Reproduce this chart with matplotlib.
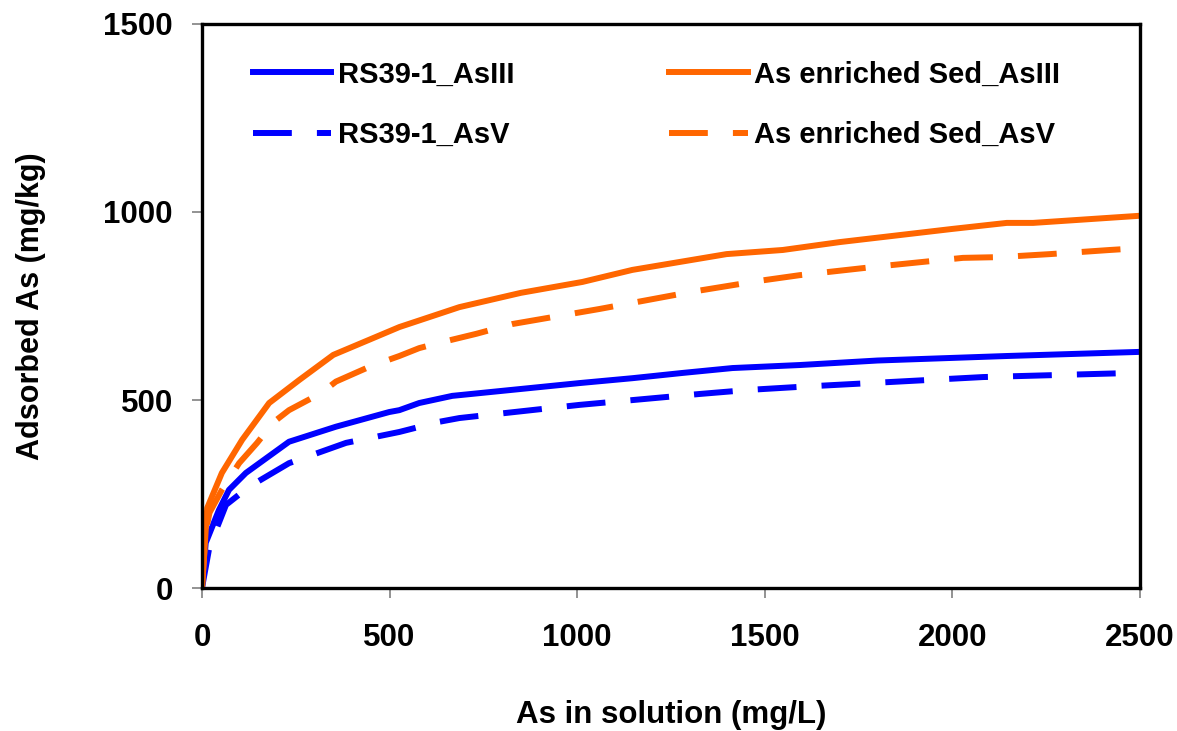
import matplotlib
matplotlib.use("Agg")
import matplotlib.pyplot as plt

plt.rcParams['font.family'] = ['Liberation Sans', 'DejaVu Sans']
plt.rcParams['font.weight'] = 'bold'

# Adsorption isotherms: adsorbed As (mg/kg) vs As in solution (mg/L)
sed_as3_x = [0, 10, 14, 53, 107, 179, 259, 350, 526, 686, 850, 1014, 1147, 1398, 1548, 1700, 2000, 2145, 2215, 2500]
sed_as3_y = [0, 154, 213, 306, 394, 492, 553, 620, 694, 747, 785, 814, 846, 888, 899, 920, 955, 971, 971, 990]

sed_as5_x = [0, 10, 20, 53, 99, 147, 192, 232, 317, 357, 450, 526, 579, 632, 731, 827, 1059, 1307, 1486, 1593, 1800, 2028, 2126, 2260, 2420, 2500]
sed_as5_y = [0, 150, 200, 261, 332, 386, 442, 473, 518, 549, 590, 617, 638, 652, 676, 702, 742, 788, 817, 832, 855, 878, 880, 888, 899, 904]

rs_as3_x = [0, 10, 45, 72, 117, 232, 357, 499, 526, 579, 667, 1006, 1147, 1281, 1414, 1593, 1800, 2145, 2500]
rs_as3_y = [0, 120, 207, 261, 306, 389, 429, 468, 473, 492, 511, 545, 558, 572, 585, 593, 605, 617, 628]

rs_as5_x = [0, 20, 45, 64, 125, 232, 384, 526, 632, 686, 1006, 1326, 1459, 1593, 2081, 2481, 2500]
rs_as5_y = [0, 110, 173, 221, 269, 332, 386, 415, 442, 452, 487, 516, 527, 535, 561, 572, 573]

x_ticks = [0, 500, 1000, 1500, 2000, 2500]
y_ticks = [0, 500, 1000, 1500]

BLUE = '#0000FF'
ORANGE = '#FF6600'
LW = 4.3
DASH = (6.5, 4.2)

fig = plt.figure(figsize=(11.77, 7.31), dpi=100)
ax = fig.add_axes([0.1716, 0.1956, 0.9686 - 0.1716, 0.9672 - 0.1956])

ax.plot(rs_as3_x, rs_as3_y, color=BLUE, lw=LW, label='RS39-1_AsIII')
ax.plot(rs_as5_x, rs_as5_y, color=BLUE, lw=LW, dashes=DASH, label='RS39-1_AsV')
ax.plot(sed_as3_x, sed_as3_y, color=ORANGE, lw=LW, label='As enriched Sed_AsIII')
ax.plot(sed_as5_x, sed_as5_y, color=ORANGE, lw=LW, dashes=DASH, label='As enriched Sed_AsV')

ax.set_xlim(0, 2500)
ax.set_ylim(0, 1500)
ax.set_xticks(x_ticks)
ax.set_yticks(y_ticks)

for s in ax.spines.values():
    s.set_linewidth(2.4)
    s.set_color('black')

ax.tick_params(axis='both', direction='out', length=7, width=1.2, color='#808080',
               labelsize=22.5)
ax.tick_params(axis='x', pad=18)
ax.tick_params(axis='y', pad=14)
for lab in ax.get_xticklabels() + ax.get_yticklabels():
    lab.set_fontweight('bold')

ax.set_xlabel('As in solution (mg/L)', fontsize=22.5, fontweight='bold', labelpad=34)
ax.set_ylabel('Adsorbed As (mg/kg)', fontsize=22, fontweight='bold', labelpad=41)

leg = ax.legend(ncol=2, loc='upper left', bbox_to_anchor=(0.054, 0.935),
                frameon=False, fontsize=21, handlelength=2.7, handletextpad=0.22,
                columnspacing=5.3, labelspacing=1.1, borderpad=0, borderaxespad=0)
for t in leg.get_texts():
    t.set_fontweight('bold')

fig.savefig('out.png', dpi=100, facecolor='white')
